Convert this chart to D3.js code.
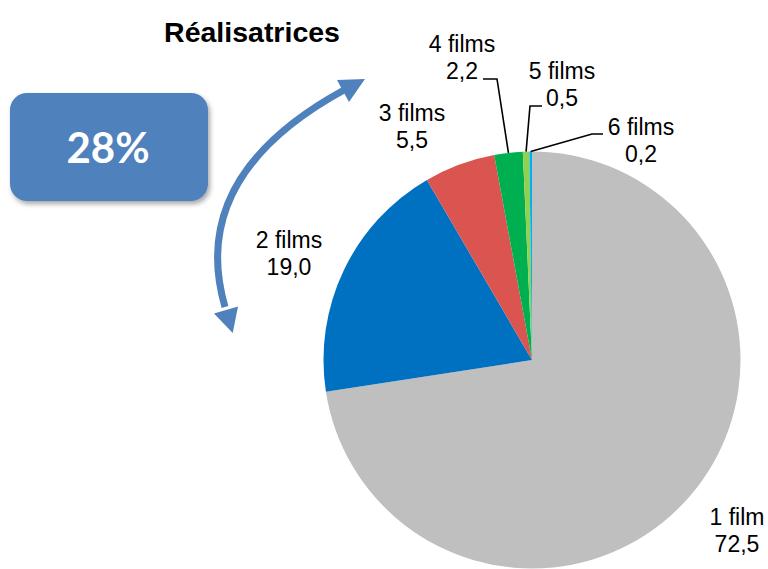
<!DOCTYPE html>
<html>
<head>
<meta charset="utf-8">
<script src="https://cdn.jsdelivr.net/npm/d3@7"></script>
<style>
  html, body { margin: 0; padding: 0; background: #fff; }
  svg { display: block; }
</style>
</head>
<body>
<svg id="chart" width="768" height="569"></svg>
<script>
// ---- data ----
const categories = ["1 film", "2 films", "3 films", "4 films", "5 films", "6 films"];
const values = [72.5, 19.0, 5.5, 2.2, 0.5, 0.2];
const valueLabels = ["72,5", "19,0", "5,5", "2,2", "0,5", "0,2"];
const colors = ["#BFBFBF", "#0070C0", "#DA5450", "#00B050", "#92D050", "#00B0F0"];
const title = "Réalisatrices";
const highlight = "28%";

// ---- layout ----
const svg = d3.select("#chart");
const cx = 532, cy = 360, R = 208.5;
const font = "'Liberation Sans', Arial, sans-serif";

// label positions (center x, first baseline y) and leader elbow/end points
const labelPos = [
  {x: 737, y: 525},
  {x: 289, y: 248},
  {x: 412, y: 121},
  {x: 462, y: 52, leader: [[497, 79], [483, 79]]},
  {x: 562, y: 79, leader: [[530, 106], [542, 106]]},
  {x: 641, y: 135, leader: [[592, 134], [603, 134]]}
];

const data = categories.map((c, i) => ({cat: c, value: values[i], label: valueLabels[i], color: colors[i], pos: labelPos[i]}));

const pie = d3.pie().value(d => d.value).sort(null);
const arc = d3.arc().innerRadius(0).outerRadius(R);
const arcs = pie(data);

const g = svg.append("g").attr("transform", `translate(${cx},${cy})`);
g.selectAll("path.slice").data(arcs).join("path")
  .attr("class", "slice")
  .attr("d", arc)
  .attr("fill", d => d.data.color);

// leader lines
arcs.forEach(a => {
  const p = a.data.pos;
  if (!p.leader) return;
  const mid = (a.startAngle + a.endAngle) / 2;
  const start = [cx + R * Math.sin(mid), cy - R * Math.cos(mid)];
  const pts = [start, ...p.leader];
  svg.append("path")
    .attr("d", d3.line()(pts))
    .attr("fill", "none")
    .attr("stroke", "#000")
    .attr("stroke-width", 1.6);
});

// labels
arcs.forEach(a => {
  const p = a.data.pos;
  const t = svg.append("text")
    .attr("x", p.x).attr("y", p.y)
    .attr("text-anchor", "middle")
    .attr("font-family", font)
    .attr("font-size", 23)
    .attr("fill", "#000");
  t.append("tspan").attr("x", p.x).text(a.data.cat);
  t.append("tspan").attr("x", p.x).attr("dy", 27).text(a.data.label);
});

// title
svg.append("text")
  .attr("x", 252).attr("y", 42)
  .attr("text-anchor", "middle")
  .attr("font-family", font)
  .attr("font-weight", "bold")
  .attr("font-size", 28.5)
  .attr("fill", "#000")
  .text(title);

// box with shadow
const defs = svg.append("defs");
const f = defs.append("filter").attr("id", "shadow").attr("x", "-20%").attr("y", "-20%").attr("width", "140%").attr("height", "150%");
f.append("feDropShadow").attr("dx", 2).attr("dy", 3).attr("stdDeviation", 2.5).attr("flood-color", "#000").attr("flood-opacity", 0.35);

svg.append("rect")
  .attr("x", 10).attr("y", 93).attr("width", 198).attr("height", 108)
  .attr("rx", 17).attr("ry", 17)
  .attr("fill", "#4F81BD")
  .attr("filter", "url(#shadow)");

svg.append("text")
  .attr("x", 108).attr("y", 163)
  .attr("text-anchor", "middle")
  .attr("font-family", "Lato, 'Open Sans', sans-serif")
  .attr("font-weight", "bold")
  .attr("font-size", 42)
  .attr("fill", "#fff")
  .text(highlight);

// curved double-headed arrow
const arrowColor = "#4F81BD";
const P0 = [225, 307], P1 = [187, 176], P2 = [344, 90];
svg.append("path")
  .attr("d", `M${P0[0]},${P0[1]} Q${P1[0]},${P1[1]} ${P2[0]},${P2[1]}`)
  .attr("fill", "none")
  .attr("stroke", arrowColor)
  .attr("stroke-width", 7);

function head(base, from, len, half) {
  const dx = base[0] - from[0], dy = base[1] - from[1];
  const L = Math.hypot(dx, dy);
  const ux = dx / L, uy = dy / L;
  const tip = [base[0] + ux * len, base[1] + uy * len];
  const l = [base[0] - uy * half, base[1] + ux * half];
  const r = [base[0] + uy * half, base[1] - ux * half];
  svg.append("path")
    .attr("d", d3.line()([tip, l, r]) + "Z")
    .attr("fill", arrowColor);
}
head([P0[0] + 1, P0[1] + 3], P1, 24, 12.5);
head([P2[0] - 1, P2[1] + 1], P1, 25, 12.5);
</script>
</body>
</html>
